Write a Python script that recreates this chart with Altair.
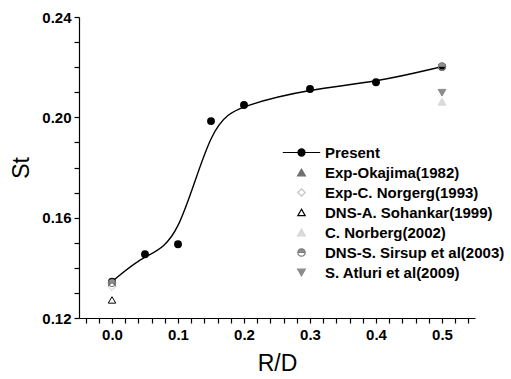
import altair as alt
import pandas as pd

# Strouhal number of the present simulations vs. corner radius ratio
present_rd = [0.0, 0.05, 0.1, 0.15, 0.2, 0.3, 0.4, 0.5]
present_st = [0.1345, 0.1454, 0.1494, 0.1985, 0.2049, 0.2113, 0.2140, 0.2202]

# Literature values
lit_source = [
    "Exp-Okajima(1982)",
    "Exp-C. Norgerg(1993)",
    "DNS-A. Sohankar(1999)",
    "C. Norberg(2002)",
    "DNS-S. Sirsup et al(2003)",
    "DNS-S. Sirsup et al(2003)",
    "S. Atluri et al(2009)",
]
lit_rd = [0.0, 0.0, 0.0, 0.5, 0.0, 0.5, 0.5]
lit_st = [0.1340, 0.1325, 0.1272, 0.2062, 0.1340, 0.2203, 0.2098]

legend_order = [
    "Present",
    "Exp-Okajima(1982)",
    "Exp-C. Norgerg(1993)",
    "DNS-A. Sohankar(1999)",
    "C. Norberg(2002)",
    "DNS-S. Sirsup et al(2003)",
    "S. Atluri et al(2009)",
]

# symbol glyphs: line-through-dot for the present series, half-filled circle for Sirsup
line_dot = "M-1,0H1M-0.19,0A0.19,0.19 0 1,1 0.19,0A0.19,0.19 0 1,1 -0.19,0Z"
half_circle = "M-1,0A1,1 0 0,1 1,0ZM1,0A1,1 0 0,1 -1,0A1,1 0 0,0 1,0"

shapes = [line_dot, "triangle-up", "diamond", "triangle-up", "triangle-up", half_circle, "triangle-down"]
fills = ["black", "#6e6e6e", "white", "white", "#dcdcdc", "#8f8f8f", "#8c8c8c"]
strokes = ["black", "#6e6e6e", "#c4c4c4", "black", "#d6d6d6", "#7a7a7a", "#8c8c8c"]
sizes = [1400, 60, 55, 55, 60, 55, 60]

present = pd.DataFrame({"rd": present_rd, "st": present_st})
lit = pd.DataFrame({"source": lit_source, "rd": lit_rd, "st": lit_st})

x_ticks = [round(-0.04 + 0.02 * i, 2) for i in range(30)]
y_ticks = [round(0.12 + 0.01 * i, 2) for i in range(13)]

x_enc = alt.X(
    "rd:Q",
    title="R/D",
    scale=alt.Scale(domain=[-0.05, 0.55], nice=False, zero=False),
    axis=alt.Axis(
        values=x_ticks,
        labelExpr="abs(round(datum.value*100) % 10) == 0 ? format(datum.value, '.1f') : ''",
        labelFlush=False,
        labelOverlap=False,
    ),
)
y_enc = alt.Y(
    "st:Q",
    title="St",
    scale=alt.Scale(domain=[0.12, 0.24], nice=False, zero=False),
    axis=alt.Axis(
        values=y_ticks,
        labelExpr="abs(round(datum.value*100) % 4) == 0 ? format(datum.value, '.2f') : ''",
        labelFlush=False,
        labelOverlap=False,
    ),
)

curve = alt.Chart(present).mark_line(
    interpolate="basis", color="black", strokeWidth=1.4
).encode(x=x_enc, y=y_enc)

dots = alt.Chart(present).mark_point(
    shape="circle", filled=True, color="black", size=62, opacity=1
).encode(x=x_enc, y=y_enc)

others = alt.Chart(lit).mark_point(filled=True, opacity=1, strokeWidth=1).encode(
    x=x_enc,
    y=y_enc,
    shape=alt.Shape("source:N", scale=alt.Scale(domain=legend_order, range=shapes), legend=alt.Legend(title=None)),
    fill=alt.Fill("source:N", scale=alt.Scale(domain=legend_order, range=fills), legend=alt.Legend(title=None)),
    stroke=alt.Stroke("source:N", scale=alt.Scale(domain=legend_order, range=strokes), legend=alt.Legend(title=None)),
    size=alt.Size("source:N", scale=alt.Scale(type="ordinal", domain=legend_order, range=sizes), legend=alt.Legend(title=None)),
)

chart = (
    alt.layer(curve, dots, others)
    .properties(
        width=396,
        height=301,
        autosize=alt.AutoSizeParams(type="none"),
        padding={"left": 79, "top": 17, "right": 36, "bottom": 61},
    )
    .configure_view(stroke=None)
    .configure_axis(
        domainColor="black",
        domainWidth=1.2,
        tickColor="black",
        tickWidth=1.2,
        tickSize=5,
        grid=False,
        labelFont="Liberation Sans",
        labelFontWeight="bold",
        labelFontSize=15,
        labelColor="black",
        titleFont="Liberation Sans",
        titleFontWeight="normal",
        titleFontSize=23,
        titleColor="black",
    )
    .configure_axisX(labelPadding=4, titlePadding=10)
    .configure_axisY(labelPadding=3, titlePadding=8)
    .configure_legend(
        orient="none",
        legendX=203,
        legendY=116,
        labelFont="Liberation Sans",
        labelFontWeight="bold",
        labelFontSize=15,
        labelColor="black",
        labelOffset=4,
        labelLimit=0,
        rowPadding=4,
        symbolStrokeWidth=1.2,
        padding=0,
    )
)

chart.save("out.html", embed_options={"renderer": "svg", "actions": False})
